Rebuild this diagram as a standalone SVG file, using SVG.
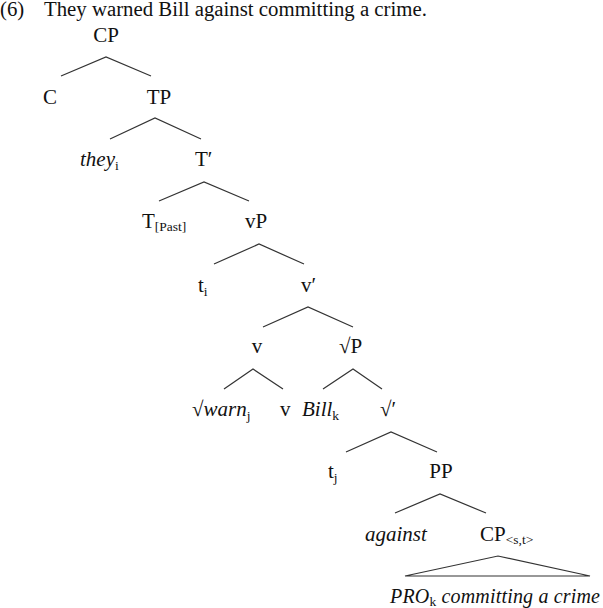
<svg xmlns="http://www.w3.org/2000/svg" width="603" height="608" viewBox="0 0 603 608">
<style>
text{font-family:"Liberation Serif","Times New Roman",serif;font-size:21px;fill:#111}
.title{font-size:20.8px}
.it{font-style:italic}
.sub{font-size:13.5px;font-style:normal}
.e{stroke:#333;stroke-width:1.2;fill:none}
</style>
<rect width="603" height="608" fill="#fff"/>
<g id="title">
<text class="title" x="0" y="16">(6)</text>
<text class="title" x="44" y="16">They warned Bill against committing a crime.</text>
</g>
<g id="connectors">
<polyline class="e" points="61,76 106,57 151,76"/>
<polyline class="e" points="110,139 155,118 201,139"/>
<polyline class="e" points="159,201 204,182 249,201"/>
<polyline class="e" points="214,264 259,244 304,264"/>
<polyline class="e" points="263,327 308,307 353,327"/>
<polyline class="e" points="224,389 253,369 283,389"/>
<polyline class="e" points="323,389 353,369 382,389"/>
<polyline class="e" points="346,452 391,432 437,452"/>
<polyline class="e" points="395,513 440,494 486,513"/>
<polygon class="e" points="405,576 498,556 590,576"/>
</g>
<g id="n-CP"><text x="106" y="42" text-anchor="middle">CP</text></g>
<g id="n-C"><text x="50" y="104" text-anchor="middle">C</text></g>
<g id="n-TP"><text x="159" y="104" text-anchor="middle">TP</text></g>
<g id="n-they"><text x="80" y="166" class="it">they<tspan class="sub" dy="4">i</tspan></text></g>
<g id="n-Tbar"><text x="195" y="166">T′</text></g>
<g id="n-TPast"><text x="142" y="228">T<tspan class="sub" dy="3">[Past]</tspan></text></g>
<g id="n-vP"><text x="245" y="228">vP</text></g>
<g id="n-ti"><text x="198" y="292">t<tspan class="sub" dy="4">i</tspan></text></g>
<g id="n-vbar"><text x="301" y="292">v′</text></g>
<g id="n-v"><text x="257" y="353" text-anchor="middle">v</text></g>
<g id="n-rootP"><text x="339" y="353">√P</text></g>
<g id="n-warn"><text x="192" y="416">√<tspan class="it">warn</tspan><tspan class="sub" dy="4">j</tspan></text></g>
<g id="n-v2"><text x="280" y="416">v</text></g>
<g id="n-Bill"><text x="302" y="416" class="it">Bill<tspan class="sub" dy="4">k</tspan></text></g>
<g id="n-rootbar"><text x="380" y="416">√′</text></g>
<g id="n-tj"><text x="328" y="478">t<tspan class="sub" dy="4">j</tspan></text></g>
<g id="n-PP"><text x="441" y="478" text-anchor="middle">PP</text></g>
<g id="n-against"><text x="365" y="541" class="it">against</text></g>
<g id="n-CPst"><text x="480" y="541">CP<tspan class="sub" dy="3">&lt;s,t&gt;</tspan></text></g>
<g id="n-PRO"><text x="390" y="603" class="it" style="font-size:20px" textLength="210" lengthAdjust="spacing">PRO<tspan class="sub" dy="3">k</tspan><tspan dy="-3"> committing a crime</tspan></text></g>
</svg>
